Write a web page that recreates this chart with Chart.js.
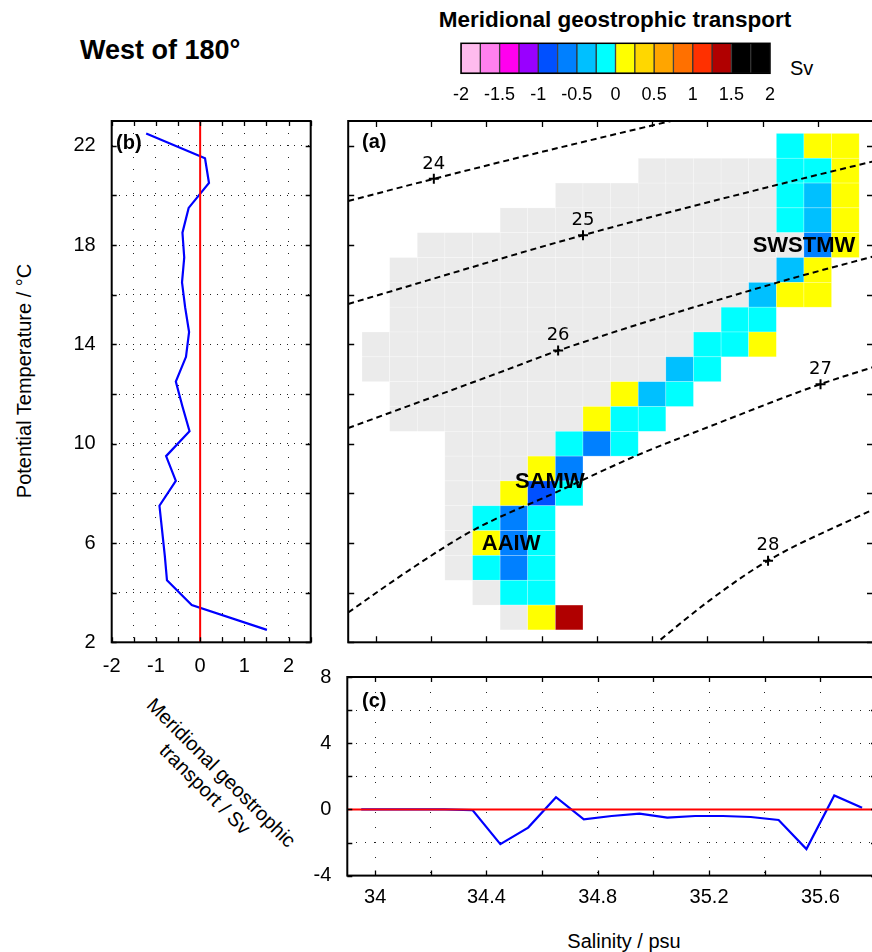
<!DOCTYPE html>
<html>
<head>
<meta charset="utf-8">
<script src="https://cdn.jsdelivr.net/npm/chart.js@4.4.0/dist/chart.umd.min.js"></script>
<style>
html, body { margin: 0; padding: 0; overflow: hidden; background: #fff; }
body { position: relative; width: 872px; height: 952px; font-family: 'Liberation Sans', Arial, Helvetica, sans-serif; color: #000; }
canvas { position: absolute; }
.t { position: absolute; white-space: nowrap; line-height: 1; }
</style>
</head>
<body>
<div class="t" style="left:80px;top:37px;font-size:27px;font-weight:bold">West of 180°</div>
<div class="t" style="left:615px;top:9px;font-size:22.5px;font-weight:bold;transform:translateX(-50%)">Meridional geostrophic transport</div>
<div class="t" style="left:790px;top:58px;font-size:20px">Sv</div>
<div class="t" style="left:24px;top:381px;font-size:20px;transform:translate(-50%,-50%) rotate(-90deg)">Potential Temperature / °C</div>
<div class="t" style="left:213px;top:781px;font-size:20px;line-height:23px;text-align:center;transform:translate(-50%,-50%) rotate(45deg)">Meridional geostrophic<br>transport / Sv</div>
<div class="t" style="left:624px;top:931px;font-size:20px;transform:translateX(-50%)">Salinity / psu</div>

<canvas id="cbar" width="380" height="80" style="left:430px;top:30px"></canvas>
<canvas id="profT" width="290" height="590" style="left:40px;top:100px"></canvas>
<canvas id="ts" width="540" height="560" style="left:340px;top:100px"></canvas>
<canvas id="profS" width="600" height="292" style="left:280px;top:660px"></canvas>

<div class="t" style="left:116px;top:132px;font-size:20px;font-weight:bold">(b)</div>
<div class="t" style="left:362px;top:131px;font-size:20px;font-weight:bold">(a)</div>
<div class="t" style="left:362px;top:690px;font-size:20px;font-weight:bold">(c)</div>

<script>
const FONT = "'Liberation Sans', Arial, Helvetica, sans-serif";
Chart.defaults.font.family = FONT;
Chart.defaults.color = '#000';

// colour scale (Sv)
const cbarEdges = [-2, -1.75, -1.5, -1.25, -1, -0.75, -0.5, -0.25, 0, 0.25, 0.5, 0.75, 1, 1.25, 1.5, 1.75, 2];
const cbarColors = ['#ffbbee', '#ff80ee', '#ff00ee', '#9900ff', '#0050ff', '#0080ff', '#00c0ff', '#00ffff',
                    '#ffff00', '#ffd700', '#ffa500', '#ff7000', '#ff3000', '#b00000', '#000000', '#000000'];
const cbarTicks = [-2, -1.5, -1, -0.5, 0, 0.5, 1, 1.5, 2];

// (a) transport in T-S classes, rows = temperature, cols = salinity; 0 = negligible (grey)
const n = null;
const cellTemps = [22, 21, 20, 19, 18, 17, 16, 15, 14, 13, 12, 11, 10, 9, 8, 7, 6, 5, 4, 3];
const cellSals = [34.0, 34.1, 34.2, 34.3, 34.4, 34.5, 34.6, 34.7, 34.8, 34.9, 35.0, 35.1, 35.2, 35.3, 35.4, 35.5, 35.6, 35.7];
const cellTransport = [
  [n, n, n, n, n, n, n, n, n, n, n, n, n, n, n, -0.1, 0.1, 0.1],
  [n, n, n, n, n, n, n, n, n, n, 0, 0, 0, 0, 0, -0.1, -0.1, 0.1],
  [n, n, n, n, n, n, n, 0, 0, 0, 0, 0, 0, 0, 0, -0.1, -0.4, 0.1],
  [n, n, n, n, n, 0, 0, 0, 0, 0, 0, 0, 0, 0, 0, -0.1, -0.4, 0.1],
  [n, n, 0, 0, 0, 0, 0, 0, 0, 0, 0, 0, 0, 0, 0, 0, -0.6, 0.1],
  [n, 0, 0, 0, 0, 0, 0, 0, 0, 0, 0, 0, 0, 0, 0, -0.4, 0.1, n],
  [n, 0, 0, 0, 0, 0, 0, 0, 0, 0, 0, 0, 0, 0, -0.4, 0.1, 0.1, n],
  [n, 0, 0, 0, 0, 0, 0, 0, 0, 0, 0, 0, 0, -0.1, -0.1, n, n, n],
  [0, 0, 0, 0, 0, 0, 0, 0, 0, 0, 0, 0, -0.1, -0.1, 0.1, n, n, n],
  [0, 0, 0, 0, 0, 0, 0, 0, 0, 0, 0, -0.4, -0.1, n, n, n, n, n],
  [n, 0, 0, 0, 0, 0, 0, 0, 0, 0.1, -0.4, -0.1, n, n, n, n, n, n],
  [n, 0, 0, 0, 0, 0, 0, 0, 0.1, -0.1, -0.1, n, n, n, n, n, n, n],
  [n, n, n, 0, 0, 0, 0, -0.1, -0.6, -0.1, n, n, n, n, n, n, n, n],
  [n, n, n, 0, 0, 0, 0.1, -0.6, n, n, n, n, n, n, n, n, n, n],
  [n, n, n, 0, 0, 0.1, -0.9, -0.1, n, n, n, n, n, n, n, n, n, n],
  [n, n, n, 0, -0.1, -0.6, -0.1, n, n, n, n, n, n, n, n, n, n, n],
  [n, n, n, 0, 0.1, -0.6, -0.1, n, n, n, n, n, n, n, n, n, n, n],
  [n, n, n, 0, -0.1, -0.6, -0.1, n, n, n, n, n, n, n, n, n, n, n],
  [n, n, n, n, 0, -0.1, -0.1, n, n, n, n, n, n, n, n, n, n, n],
  [n, n, n, n, n, 0, 0.1, 1.4, n, n, n, n, n, n, n, n, n, n]
];

// isopycnals (sigma-theta)
const sig24S = [33.9, 34.21, 34.54, 35.2];
const sig24T = [19.78, 20.67, 21.59, 23.35];
const sig25S = [33.9, 34.75, 35.45, 35.8];
const sig25T = [15.63, 18.4, 20.42, 21.37];
const sig26S = [33.9, 34.46, 34.66, 35.45, 35.8];
const sig26T = [10.63, 12.92, 13.75, 16.48, 17.54];
const sig27S = [33.9, 34.12, 34.35, 34.65, 34.95, 35.21, 35.61, 35.8];
const sig27T = [3.2, 4.9, 6.5, 8.03, 9.55, 10.7, 12.4, 13.08];
const sig28S = [34.975, 35.21, 35.42, 35.8];
const sig28T = [1.6, 3.7, 5.29, 7.35];
const sigLabels = ['24', '25', '26', '27', '28'];
const sigLabelS = [34.21, 34.75, 34.66, 35.61, 35.42];
const sigLabelT = [20.67, 18.4, 13.75, 12.4, 5.29];

const massNames = ['SWSTMW', 'SAMW', 'AAIW'];
const massS = [35.55, 34.63, 34.49];
const massT = [18.0, 8.5, 6.0];

// (b) transport summed per temperature class
const profTemps = [22.5, 21.5, 20.5, 19.5, 18.5, 17.5, 16.5, 15.5, 14.5, 13.5, 12.5,
                   11.5, 10.5, 9.5, 8.5, 7.5, 6.5, 5.5, 4.5, 3.5, 2.5];
const profTransport = [-1.22, 0.11, 0.20, -0.26, -0.40, -0.36, -0.41, -0.34, -0.25, -0.32, -0.55,
                       -0.40, -0.24, -0.77, -0.55, -0.92, -0.86, -0.80, -0.75, -0.19, 1.51];
const profTicksX = [-2, -1.5, -1, -0.5, 0, 0.5, 1, 1.5, 2, 2.5];
const profLabelsX = [-2, -1, 0, 1, 2];
const tempTicks = [2, 4, 6, 8, 10, 12, 14, 16, 18, 20, 22];
const tempLabels = [2, 6, 10, 14, 18, 22];

// (c) transport summed per salinity class
const salPoints = [33.95, 34.05, 34.15, 34.25, 34.35, 34.45, 34.55, 34.65, 34.75, 34.85,
                   34.95, 35.05, 35.15, 35.25, 35.35, 35.45, 35.55, 35.65, 35.75];
const salTransport = [0, 0, 0, 0, -0.04, -2.1, -1.1, 0.74, -0.6, -0.4,
                      -0.26, -0.5, -0.4, -0.4, -0.46, -0.64, -2.4, 0.84, 0.1];
const salTicks = [34, 34.2, 34.4, 34.6, 34.8, 35, 35.2, 35.4, 35.6];
const salLabels = [34, 34.4, 34.8, 35.2, 35.6];
const cTicksY = [-4, -2, 0, 2, 4, 6, 8];
const cLabelsY = [-4, 0, 4, 8];

function colorFor(v) {
  let i = Math.floor((v + 2) / 0.25);
  i = Math.max(0, Math.min(cbarColors.length - 1, i));
  return cbarColors[i];
}

function framePlugin(xTicks, yTicks, len, width) {
  return {
    id: 'frame',
    afterDraw(chart) {
      const { ctx, chartArea: a, scales } = chart;
      ctx.save();
      ctx.strokeStyle = '#000';
      ctx.lineWidth = 1.3;
      ctx.beginPath();
      xTicks.forEach(v => {
        const px = Math.round(scales.x.getPixelForValue(v)) + 0.5;
        ctx.moveTo(px, a.top); ctx.lineTo(px, a.top + len);
        ctx.moveTo(px, a.bottom); ctx.lineTo(px, a.bottom - len);
      });
      yTicks.forEach(v => {
        const py = Math.round(scales.y.getPixelForValue(v)) + 0.5;
        ctx.moveTo(a.left, py); ctx.lineTo(a.left + len, py);
        ctx.moveTo(a.right, py); ctx.lineTo(a.right - len, py);
      });
      ctx.stroke();
      ctx.lineWidth = width;
      ctx.strokeRect(a.left, a.top, a.right - a.left, a.bottom - a.top);
      ctx.restore();
    }
  };
}

const fixedTicks = list => scale => { scale.ticks = list.map(v => ({ value: v })); };
const onlyLabels = list => v => (list.includes(v) ? String(v) : '');
// force axis size and stop Chart.js from shrinking the plot area for edge labels
const fixSize = (w, h) => s => {
  if (w !== null) s.width = w;
  if (h !== null) s.height = h;
  s.paddingTop = 0; s.paddingBottom = 0; s.paddingLeft = 0; s.paddingRight = 0;
};

// Colour bar
new Chart(document.getElementById('cbar'), {
  type: 'bar',
  data: {
    labels: [''],
    datasets: cbarColors.map((c, i) => ({
      data: [[cbarEdges[i], cbarEdges[i + 1]]],
      backgroundColor: c,
      borderColor: '#333',
      borderWidth: 1,
      borderSkipped: false,
      grouped: false,
      barPercentage: 1,
      categoryPercentage: 1
    }))
  },
  options: {
    indexAxis: 'y',
    responsive: false,
    animation: false,
    layout: { padding: { left: 31, right: 40, top: 13.3, bottom: 0 } },
    plugins: { legend: { display: false }, tooltip: { enabled: false } },
    scales: {
      x: {
        type: 'linear', min: -2, max: 2,
        afterBuildTicks: fixedTicks(cbarTicks),
        afterFit: fixSize(null, 36.7),
        grid: { display: false, drawTicks: false },
        border: { display: false },
        ticks: { padding: 11, font: { size: 18 }, maxRotation: 0, autoSkip: false, callback: v => String(v) }
      },
      y: { display: false }
    }
  },
  plugins: [framePlugin([], [], 0, 1.5)]
});

// (b) transport against temperature
new Chart(document.getElementById('profT'), {
  type: 'scatter',
  data: {
    datasets: [
      {
        data: [{ x: 0, y: 2 }, { x: 0, y: 23 }],
        showLine: true, borderColor: '#ff0000', borderWidth: 2, pointRadius: 0
      },
      {
        data: profTemps.map((t, i) => ({ x: profTransport[i], y: t })),
        showLine: true, borderColor: '#0000ff', borderWidth: 2.2, pointRadius: 0
      }
    ]
  },
  options: {
    responsive: false,
    animation: false,
    layout: { padding: { left: 0, right: 19.3, top: 21, bottom: 0 } },
    plugins: { legend: { display: false }, tooltip: { enabled: false } },
    scales: {
      x: {
        type: 'linear', min: -2, max: 2.5,
        afterBuildTicks: fixedTicks(profTicksX),
        afterFit: fixSize(null, 47.7),
        grid: { color: '#222', drawTicks: false },
        border: { display: false, dash: [1, 11] },
        ticks: { padding: 12, font: { size: 20 }, maxRotation: 0, autoSkip: false, callback: onlyLabels(profLabelsX) }
      },
      y: {
        type: 'linear', min: 2, max: 23,
        afterBuildTicks: fixedTicks(tempTicks),
        afterFit: fixSize(71.7, null),
        grid: { color: '#222', drawTicks: false },
        border: { display: false, dash: [1, 6] },
        ticks: { padding: 16, font: { size: 20 }, autoSkip: false, callback: onlyLabels(tempLabels) }
      }
    }
  },
  plugins: [framePlugin(profTicksX, tempTicks, 5, 2)]
});

// (a) T-S diagram
const cellPlugin = {
  id: 'cells',
  beforeDatasetsDraw(chart) {
    const { ctx, chartArea: a, scales: { x, y } } = chart;
    ctx.save();
    ctx.beginPath();
    ctx.rect(a.left, a.top, a.right - a.left, a.bottom - a.top);
    ctx.clip();
    cellTemps.forEach((t, r) => {
      cellSals.forEach((s, c) => {
        const v = cellTransport[r][c];
        if (v === null) return;
        const x0 = x.getPixelForValue(s - 0.05), x1 = x.getPixelForValue(s + 0.05);
        const y0 = y.getPixelForValue(t + 0.5), y1 = y.getPixelForValue(t - 0.5);
        ctx.fillStyle = v === 0 ? '#ebebeb' : colorFor(v);
        ctx.fillRect(x0, y0, x1 - x0, y1 - y0);
        ctx.strokeStyle = 'rgba(255,255,255,0.4)';
        ctx.lineWidth = 0.6;
        ctx.strokeRect(x0, y0, x1 - x0, y1 - y0);
      });
    });
    ctx.restore();
  },
  afterDatasetsDraw(chart) {
    const { ctx, scales: { x, y } } = chart;
    ctx.save();
    ctx.fillStyle = '#000';
    ctx.textAlign = 'center';
    ctx.textBaseline = 'middle';
    ctx.font = "18px 'DejaVu Sans'";
    sigLabels.forEach((lab, i) => {
      ctx.fillText(lab, x.getPixelForValue(sigLabelS[i]), y.getPixelForValue(sigLabelT[i]) - 15);
    });
    ctx.font = "bold 22px " + FONT;
    massNames.forEach((m, i) => {
      ctx.fillText(m, x.getPixelForValue(massS[i]), y.getPixelForValue(massT[i]) + 1);
    });
    ctx.restore();
  }
};

const isoLine = (sArr, tArr) => ({
  data: sArr.map((s, i) => ({ x: s, y: tArr[i] })),
  showLine: true,
  borderColor: '#000',
  borderWidth: 2,
  borderDash: [6, 4],
  pointRadius: 0,
  cubicInterpolationMode: 'monotone'
});

new Chart(document.getElementById('ts'), {
  type: 'scatter',
  data: {
    datasets: [
      isoLine(sig24S, sig24T),
      isoLine(sig25S, sig25T),
      isoLine(sig26S, sig26T),
      isoLine(sig27S, sig27T),
      isoLine(sig28S, sig28T),
      {
        data: sigLabelS.map((s, i) => ({ x: s, y: sigLabelT[i] })),
        pointStyle: 'cross', pointRadius: 5, pointBorderWidth: 2,
        borderColor: '#000', backgroundColor: '#000', showLine: false
      }
    ]
  },
  options: {
    responsive: false,
    animation: false,
    layout: { padding: { left: 8.2, right: 4, top: 21, bottom: 17.7 } },
    plugins: { legend: { display: false }, tooltip: { enabled: false } },
    scales: {
      x: { type: 'linear', min: 33.9, max: 35.8, display: false },
      y: { type: 'linear', min: 2, max: 23, display: false }
    }
  },
  plugins: [cellPlugin, framePlugin(salTicks, tempTicks, 6, 2)]
});

// (c) transport against salinity
new Chart(document.getElementById('profS'), {
  type: 'scatter',
  data: {
    datasets: [
      {
        data: [{ x: 33.9, y: 0 }, { x: 35.8, y: 0 }],
        showLine: true, borderColor: '#ff0000', borderWidth: 2, pointRadius: 0
      },
      {
        data: salPoints.map((s, i) => ({ x: s, y: salTransport[i] })),
        showLine: true, borderColor: '#0000ff', borderWidth: 2.2, pointRadius: 0
      }
    ]
  },
  options: {
    responsive: false,
    animation: false,
    layout: { padding: { left: 0, right: 4, top: 17, bottom: 0 } },
    plugins: { legend: { display: false }, tooltip: { enabled: false } },
    scales: {
      x: {
        type: 'linear', min: 33.9, max: 35.8,
        afterBuildTicks: fixedTicks(salTicks),
        afterFit: fixSize(null, 76.4),
        grid: { color: '#222', drawTicks: false },
        border: { display: false, dash: [1, 14] },
        ticks: { padding: 10, font: { size: 20 }, maxRotation: 0, autoSkip: false, callback: onlyLabels(salLabels) }
      },
      y: {
        type: 'linear', min: -4, max: 8,
        afterBuildTicks: fixedTicks(cTicksY),
        afterFit: fixSize(67.3, null),
        grid: { color: '#222', drawTicks: false },
        border: { display: false, dash: [1, 8] },
        ticks: { padding: 16, font: { size: 20 }, autoSkip: false, callback: onlyLabels(cLabelsY) }
      }
    }
  },
  plugins: [framePlugin(salTicks, cTicksY, 5, 2)]
});
</script>
</body>
</html>
